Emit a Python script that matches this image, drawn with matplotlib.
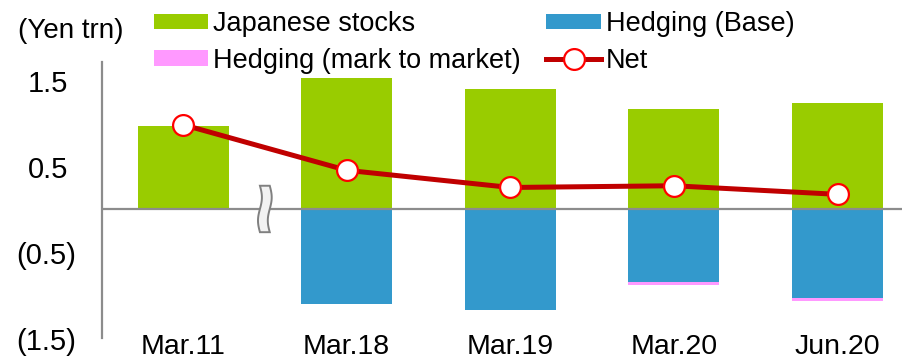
import numpy as np
import matplotlib.pyplot as plt
import matplotlib.transforms as mtransforms
from matplotlib.patches import Polygon

plt.rcParams['font.family'] = ['Liberation Sans', 'DejaVu Sans']

# data (Yen trn)
categories = ['Mar.11', 'Mar.18', 'Mar.19', 'Mar.20', 'Jun.20']
jp_stocks = [0.96, 1.52, 1.39, 1.16, 1.23]
hedge_base = [0.0, -1.10, -1.17, -0.85, -1.04]
hedge_mtm = [0.0, 0.0, 0.0, -0.03, -0.025]
net = [0.98, 0.45, 0.25, 0.27, 0.17]
ytick_vals = [1.5, 0.5, -0.5, -1.5]
ytick_labels = ['1.5', '0.5', '(0.5)', '(1.5)']

green = '#99CC00'
blue = '#3399CC'
pink = '#FF99FF'
red = '#C00000'

fig = plt.figure(figsize=(9.03, 3.58), dpi=100)
ax = fig.add_axes([0.113, 0.056, 0.887, 0.771])

x = np.arange(len(categories))
w = 0.556
b1 = ax.bar(x, jp_stocks, w, color=green, label='Japanese stocks', zorder=2)
b2 = ax.bar(x, hedge_base, w, color=blue, label='Hedging (Base)', zorder=2)
b3 = ax.bar(x, hedge_mtm, w, bottom=hedge_base, color=pink,
            label='Hedging (mark to market)', zorder=2)
ax.axhline(0, color='#8C8C8C', lw=1.6, zorder=3)
ln, = ax.plot(x, net, color=red, lw=3.6, marker='o', ms=15, mfc='white',
              mec='#FF0000', mew=1.6, label='Net', zorder=5)

# axis break mark between first and second category
bx = (x[0] + x[1]) / 2
t = np.linspace(-0.27, 0.27, 30)
wig = 0.012 * np.sin(t / 0.27 * np.pi)
left = np.column_stack([bx - 0.03 + wig, t])
right = np.column_stack([bx + 0.03 + wig, t])[::-1]
ax.add_patch(Polygon(np.vstack([left, right]), closed=True, fc='#F2F2F2',
                     ec='#808080', lw=1.4, zorder=4))

ax.set_xlim(-0.495, 4.4)
ax.set_ylim(-1.5, 1.71)
ax.set_xticks(x)
ax.set_xticklabels(categories, fontsize=20.5)
ax.tick_params(axis='x', length=0, pad=-3)
ax.set_yticks([])
shift = mtransforms.ScaledTranslation(0, -4 / 100, fig.dpi_scale_trans)
for v, s in zip(ytick_vals, ytick_labels):
    xr = 0.0 if s.startswith('(') else -0.0105
    ax.text(-0.032 + xr, v, s, transform=ax.get_yaxis_transform() + shift,
            ha='right', va='center', fontsize=21)

for sp in ['top', 'right', 'bottom']:
    ax.spines[sp].set_visible(False)
ax.spines['left'].set_color('#8C8C8C')
ax.spines['left'].set_linewidth(1.6)

fig.text(18 / 903, 1 - 31 / 358, '(Yen trn)', fontsize=20, va='center')

handles = [b1, b3, b2, ln]
labels = [h.get_label() for h in handles]
fig.legend(handles, labels, loc='upper left', bbox_to_anchor=(0.158, 1.0),
           ncol=2, frameon=False, fontsize=19.5, handlelength=2.0,
           handleheight=0.5, handletextpad=0.2, columnspacing=0.95,
           labelspacing=0.4, borderaxespad=0)

fig.savefig('out.png', dpi=100)
